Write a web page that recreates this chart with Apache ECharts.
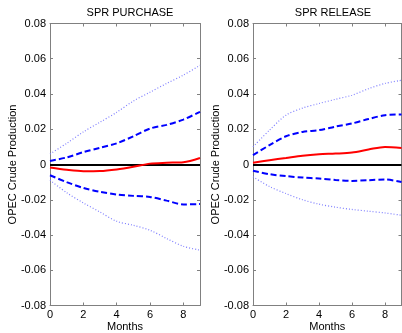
<!DOCTYPE html>
<html>
<head>
<meta charset="utf-8">
<script src="https://cdn.jsdelivr.net/npm/echarts@6/dist/echarts.min.js"></script>
<style>
  html, body { margin: 0; padding: 0; background: #fff; }
  #chart { width: 402px; height: 333px; }
</style>
</head>
<body>
<div id="chart"></div>
<script>
// months 0..9
const months = [0, 1, 2, 3, 4, 5, 6, 7, 8, 9];

// SPR PURCHASE
const buyMedian = [-0.0017, -0.003, -0.0038, -0.0037, -0.0028, -0.0013, 0.0005, 0.001, 0.0013, 0.0037];
const buyUp68 = [0.002, 0.004, 0.007, 0.0095, 0.012, 0.016, 0.0204, 0.0225, 0.0255, 0.0299];
const buyLo68 = [-0.0061, -0.010, -0.0133, -0.0155, -0.017, -0.0178, -0.0184, -0.0205, -0.0227, -0.0224];
const buyUp95 = [0.006, 0.012, 0.0185, 0.024, 0.0296, 0.036, 0.041, 0.046, 0.0507, 0.0563];
const buyLo95 = [-0.0089, -0.016, -0.0218, -0.027, -0.0322, -0.0345, -0.0373, -0.042, -0.0464, -0.0486];

// SPR RELEASE
const relMedian = [0.001, 0.0024, 0.0037, 0.005, 0.0058, 0.0062, 0.0068, 0.0085, 0.010, 0.0094];
const relUp68 = [0.0053, 0.011, 0.016, 0.0185, 0.0195, 0.0215, 0.0233, 0.0258, 0.028, 0.0284];
const relLo68 = [-0.0036, -0.0055, -0.0066, -0.0074, -0.008, -0.0088, -0.0093, -0.0089, -0.0085, -0.0099];
const relUp95 = [0.010, 0.0195, 0.028, 0.032, 0.0346, 0.037, 0.0393, 0.043, 0.046, 0.0478];
const relLo95 = [-0.007, -0.0125, -0.0165, -0.020, -0.0225, -0.0242, -0.0255, -0.0265, -0.0275, -0.0288];

const titles = ['SPR PURCHASE', 'SPR RELEASE'];
const yName = 'OPEC Crude Production';
const xName = 'Months';

const font = 'Arial, "Liberation Sans", sans-serif';
const boxColor = '#808080';

const pair = arr => months.map((m, i) => [m, arr[i]]);

const chart = echarts.init(document.getElementById('chart'));

const grids = [
    { left: 50, right: 202, top: 23.5, bottom: 27.5, outerBoundsMode: 'none', containLabel: false },
    { left: 253, right: 0.5, top: 23.5, bottom: 27.5, outerBoundsMode: 'none', containLabel: false }
];

const xAxes = [];
const yAxes = [];
[0, 1].forEach(g => {
    // bottom axis with labels
    xAxes.push({
        gridIndex: g, type: 'value', min: 0, max: 9, interval: 2,
        name: xName, nameLocation: 'middle', nameGap: 15.5, nameMoveOverlap: false,
        nameTextStyle: { color: '#000', fontSize: 11, fontFamily: font },
        axisLine: { show: true, onZero: false, lineStyle: { color: boxColor, width: 1 } },
        axisTick: { inside: true, length: 3, lineStyle: { color: boxColor } },
        axisLabel: { color: '#000', fontSize: 11, fontFamily: font, margin: 4, showMaxLabel: false },
        splitLine: { show: false }
    });
    // top box edge
    xAxes.push({
        gridIndex: g, type: 'value', min: 0, max: 9, interval: 2, position: 'top',
        axisLine: { show: true, onZero: false, lineStyle: { color: boxColor, width: 1 } },
        axisTick: { inside: true, length: 3, lineStyle: { color: boxColor } },
        axisLabel: { show: false },
        splitLine: { show: false }
    });
    yAxes.push({
        gridIndex: g, type: 'value', min: -0.08, max: 0.08, interval: 0.02,
        name: yName, nameLocation: 'middle', nameGap: 32, nameMoveOverlap: false,
        nameTextStyle: { color: '#000', fontSize: 11, fontFamily: font },
        axisLine: { show: true, onZero: false, lineStyle: { color: boxColor, width: 1 } },
        axisTick: { inside: true, length: 3, lineStyle: { color: boxColor } },
        axisLabel: {
            color: '#000', fontSize: 11, fontFamily: font, margin: 4,
            formatter: v => (Math.abs(v) < 1e-9 ? '0' : v.toFixed(2))
        },
        splitLine: { show: false }
    });
    yAxes.push({
        gridIndex: g, type: 'value', min: -0.08, max: 0.08, interval: 0.02, position: 'right',
        axisLine: { show: true, onZero: false, lineStyle: { color: boxColor, width: 1 } },
        axisTick: { inside: true, length: 3, lineStyle: { color: boxColor } },
        axisLabel: { show: false },
        splitLine: { show: false }
    });
});

function panelSeries(g, med, up68, lo68, up95, lo95) {
    const xi = g * 2, yi = g * 2;
    const base = { type: 'line', xAxisIndex: xi, yAxisIndex: yi, symbol: 'none', smooth: 0.3, silent: true, animation: false };
    return [
        Object.assign({}, base, { data: pair(up95), lineStyle: { color: '#7f7fff', width: 1.2, type: [1, 2] } }),
        Object.assign({}, base, { data: pair(lo95), lineStyle: { color: '#7f7fff', width: 1.2, type: [1, 2] } }),
        Object.assign({}, base, { data: pair(up68), lineStyle: { color: '#0000ff', width: 2, type: [6, 3] } }),
        Object.assign({}, base, { data: pair(lo68), lineStyle: { color: '#0000ff', width: 2, type: [6, 3] } }),
        Object.assign({}, base, {
            data: pair(med), z: 5, lineStyle: { color: '#ff0000', width: 2 },
            markLine: {
                silent: true, symbol: 'none', label: { show: false }, animation: false,
                lineStyle: { color: '#000', width: 2, type: 'solid' },
                data: [{ yAxis: 0 }]
            }
        })
    ];
}

chart.setOption({
    animation: false,
    title: [
        { text: titles[0], left: 125, top: 2, textAlign: 'center',
          textStyle: { fontSize: 11, fontWeight: 'normal', color: '#000', fontFamily: font } },
        { text: titles[1], left: 328, top: 2, textAlign: 'center',
          textStyle: { fontSize: 11, fontWeight: 'normal', color: '#000', fontFamily: font } }
    ],
    grid: grids,
    xAxis: xAxes,
    yAxis: yAxes,
    series: [].concat(
        panelSeries(0, buyMedian, buyUp68, buyLo68, buyUp95, buyLo95),
        panelSeries(1, relMedian, relUp68, relLo68, relUp95, relLo95)
    )
});
</script>
</body>
</html>
